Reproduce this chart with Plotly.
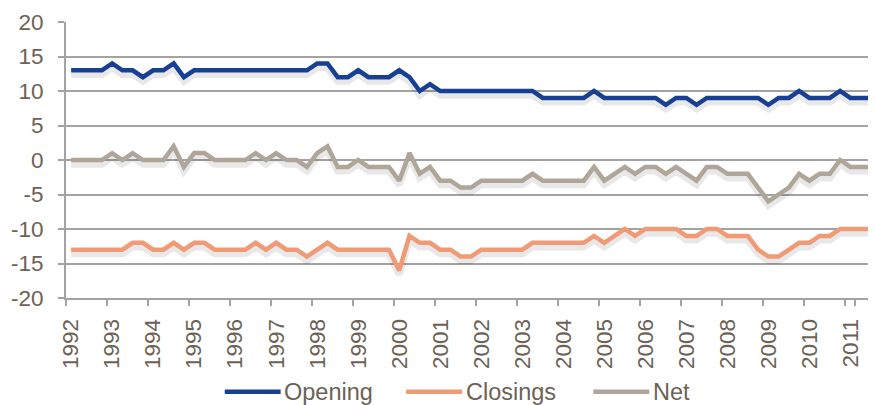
import plotly.graph_objects as go

# ── Data (quarterly, 1992 Q1 – 2011 Q3) ─────────────────────────────────────
years = [str(y) for y in range(1992, 2012)]
quarters = [f"{y} Q{q}" for y in years for q in range(1, 5)][:79]

y_ticks = [-20, -15, -10, -5, 0, 5, 10, 15, 20]
y_labels = ["-20", "-15", "-10", "-5", "0", "5", "10", "15", "20"]

opening = [13, 13, 13, 13, 14, 13, 13, 12, 13, 13, 14, 12, 13, 13, 13, 13,
           13, 13, 13, 13, 13, 13, 13, 13, 14, 14, 12, 12, 13, 12, 12, 12,
           13, 12, 10, 11, 10, 10, 10, 10, 10, 10, 10, 10, 10, 10, 9, 9,
           9, 9, 9, 10, 9, 9, 9, 9, 9, 9, 8, 9, 9, 8, 9, 9,
           9, 9, 9, 9, 8, 9, 9, 10, 9, 9, 9, 10, 9, 9, 9]

closings = [-13, -13, -13, -13, -13, -13, -12, -12, -13, -13, -12, -13, -12, -12, -13, -13,
            -13, -13, -12, -13, -12, -13, -13, -14, -13, -12, -13, -13, -13, -13, -13, -13,
            -16, -11, -12, -12, -13, -13, -14, -14, -13, -13, -13, -13, -13, -12, -12, -12,
            -12, -12, -12, -11, -12, -11, -10, -11, -10, -10, -10, -10, -11, -11, -10, -10,
            -11, -11, -11, -13, -14, -14, -13, -12, -12, -11, -11, -10, -10, -10, -10]

net = [0, 0, 0, 0, 1, 0, 1, 0, 0, 0, 2, -1, 1, 1, 0, 0,
       0, 0, 1, 0, 1, 0, 0, -1, 1, 2, -1, -1, 0, -1, -1, -1,
       -3, 1, -2, -1, -3, -3, -4, -4, -3, -3, -3, -3, -3, -2, -3, -3,
       -3, -3, -3, -1, -3, -2, -1, -2, -1, -1, -2, -1, -2, -3, -1, -1,
       -2, -2, -2, -4, -6, -5, -4, -2, -3, -2, -2, 0, -1, -1, -1]

series = [
    ("Opening", opening, "#173f93"),
    ("Closings", closings, "#f19a76"),
    ("Net", net, "#afa599"),
]

TEXT = "#6c6256"
GRID = "#a3a3a3"
FONT = "Liberation Sans, Arial, sans-serif"

fig = go.Figure()

# soft drop shadow (Excel-style) on a hidden, slightly shifted axis
for name, vals, col in series:
    fig.add_trace(go.Scatter(
        x=quarters, y=vals, yaxis="y", mode="lines",
        line=dict(color="rgba(0,0,0,0.09)", width=7),
        showlegend=False, hoverinfo="skip",
    ))

for name, vals, col in series:
    fig.add_trace(go.Scatter(
        x=quarters, y=vals, yaxis="y2", mode="lines", name=name,
        line=dict(color=col, width=4.5), showlegend=False,
    ))

# legend drawn by hand so the keys are as long as Excel's
legend_x = [0.196, 0.42, 0.651]   # left end of each key line (paper)
legend_y = -0.34
key_len = 0.069
for (name, vals, col), lx in zip(series, legend_x):
    fig.add_shape(type="line", xref="paper", yref="paper",
                  x0=lx, x1=lx + key_len, y0=legend_y, y1=legend_y,
                  line=dict(color=col, width=4.5))
    fig.add_annotation(xref="paper", yref="paper", x=lx + key_len + 0.002, y=legend_y,
                       text=name, showarrow=False, xanchor="left", yanchor="middle",
                       font=dict(size=23.5, color=TEXT))

# page body adds an 8px margin, so the figure is 8px smaller and shifted
fig.update_layout(
    width=868, height=397,
    margin=dict(l=58, r=0, t=14, b=107),
    paper_bgcolor="white", plot_bgcolor="white",
    font=dict(family=FONT, size=22, color=TEXT),
    xaxis=dict(
        type="category", range=[-0.5, 78.5],
        tickmode="array", tickvals=quarters[::4], ticktext=years,
        tickson="boundaries", tickangle=-90,
        ticks="outside", ticklen=6, tickwidth=2, tickcolor=GRID,
        ticklabelstandoff=10,
        showgrid=False, showline=True, linecolor=GRID, linewidth=2,
        tickfont=dict(size=22.5, color=TEXT),
    ),
    yaxis=dict(range=[-19.4, 20.6], visible=False, showgrid=False, zeroline=False),
    yaxis2=dict(
        overlaying="y", side="left", range=[-20, 20],
        tickmode="array", tickvals=y_ticks, ticktext=y_labels,
        showgrid=True, gridcolor=GRID, gridwidth=2,
        zeroline=True, zerolinecolor=GRID, zerolinewidth=2,
        showline=True, linecolor=GRID, linewidth=2,
        ticks="outside", ticklen=6, tickwidth=2, tickcolor=GRID,
        ticklabelstandoff=10,
        tickfont=dict(size=22.5, color=TEXT),
    ),
    showlegend=False,
)

fig.write_html("out.html")
